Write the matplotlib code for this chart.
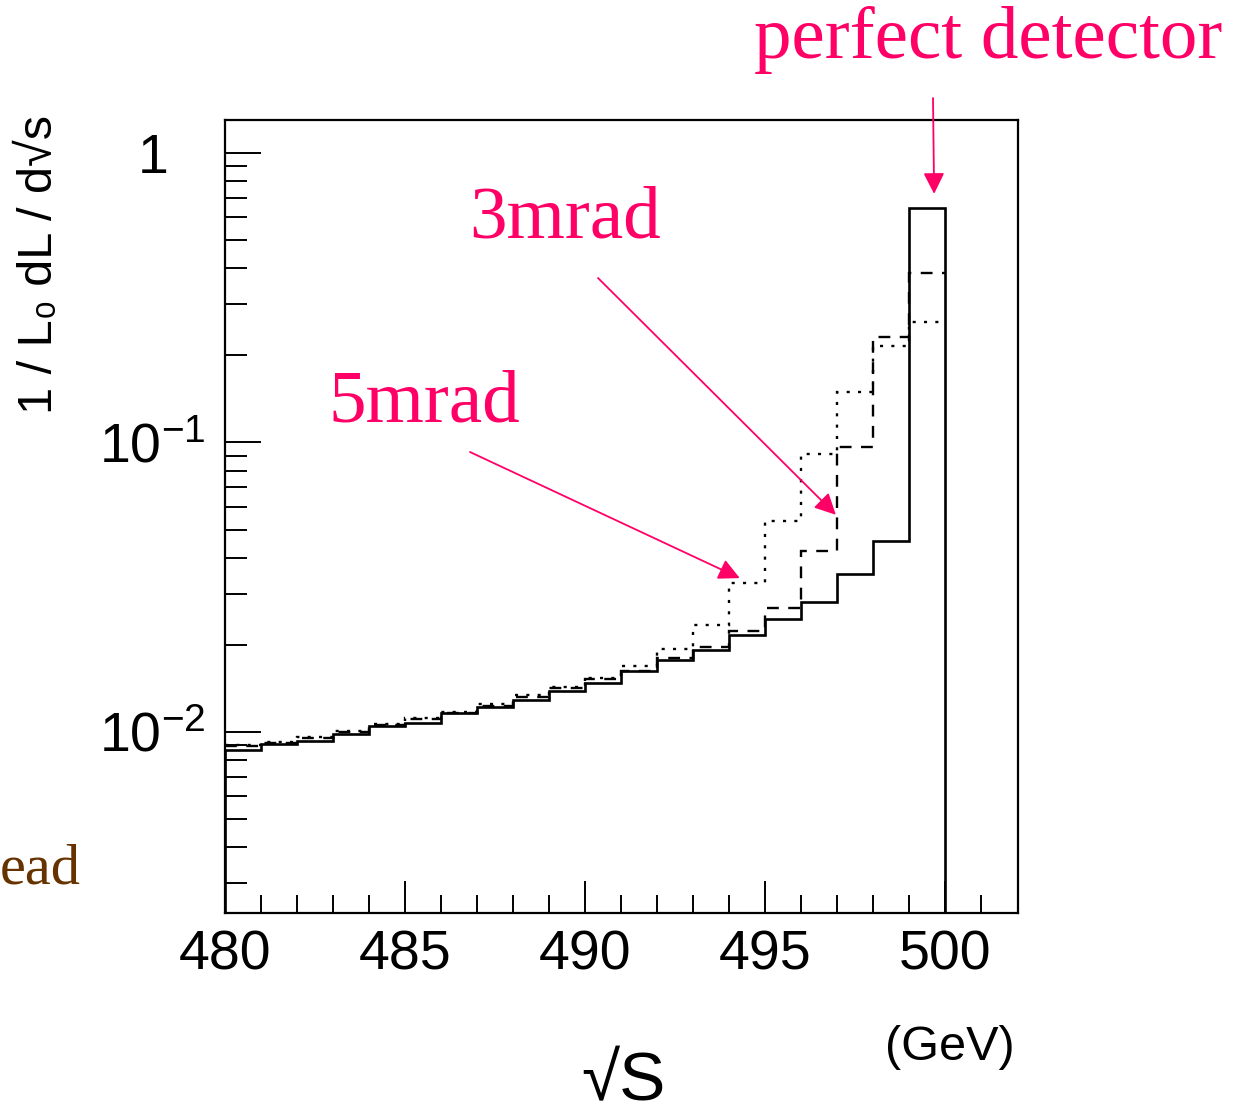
import numpy as np
import matplotlib
matplotlib.use("Agg")
import matplotlib.pyplot as plt
from matplotlib.ticker import FixedLocator, LogLocator, NullFormatter

# ---- data ----
bin_edges = np.arange(480, 501, 1)  # 1 GeV bins from 480 to 500
perfect = [0.00867, 0.00909, 0.00933, 0.00984, 0.01049, 0.01072, 0.01161, 0.01217,
           0.01290, 0.01386, 0.01480, 0.01625, 0.01774, 0.01922, 0.02167, 0.02459,
           0.02822, 0.0352, 0.0455, 0.645]
mrad3 = [0.00895, 0.00914, 0.00951, 0.01003, 0.01057, 0.01109, 0.01166, 0.01233,
         0.01325, 0.01416, 0.01521, 0.01629, 0.0180, 0.0196, 0.0224, 0.0268,
         0.0423, 0.0968, 0.232, 0.385]
mrad5 = [0.00900, 0.00920, 0.00958, 0.01010, 0.01065, 0.01118, 0.01176, 0.01245,
         0.01340, 0.01432, 0.01540, 0.0169, 0.0193, 0.0234, 0.0327, 0.0534,
         0.0911, 0.150, 0.216, 0.261]
xticks_major = [480, 485, 490, 495, 500]
xtick_labels = ["480", "485", "490", "495", "500"]
yticks_major = [1e-2, 1e-1, 1]
ytick_labels = [r"$\mathregular{10^{-2}}$", r"$\mathregular{10^{-1}}$", "1"]

PINK = "#FF0066"
BROWN = "#663300"
SANS = ["Liberation Sans", "DejaVu Sans"]
SERIF = ["Liberation Serif", "DejaVu Serif"]

plt.rcParams["font.family"] = SANS
plt.rcParams["mathtext.fontset"] = "custom"
plt.rcParams["mathtext.rm"] = "Liberation Sans"

W, H = 1236, 1120
fig = plt.figure(figsize=(W / 100, H / 100), dpi=100)
ax = fig.add_axes([225 / W, 1 - 913 / H, (1018 - 225) / W, (913 - 120) / H])
ax.set_yscale("log")
ax.set_xlim(480, 502.03)
ax.set_ylim(0.00237, 1.30)

ax.stairs(perfect, bin_edges, baseline=0.00237, color="black", lw=1.9)
ax.stairs(mrad3, bin_edges, baseline=None, color="black", lw=1.7, linestyle=(0, (5, 4)))
ax.stairs(mrad5, bin_edges, baseline=None, color="black", lw=1.7, linestyle=(0, (1.3, 3.5)))

for s in ax.spines.values():
    s.set_linewidth(1.6)

ax.xaxis.set_major_locator(FixedLocator(xticks_major))
ax.xaxis.set_minor_locator(FixedLocator(np.arange(481, 502, 1)))
ax.set_xticklabels(xtick_labels)
ax.yaxis.set_major_locator(FixedLocator(yticks_major))
ax.yaxis.set_minor_locator(LogLocator(base=10, subs=np.arange(2, 10)))
ax.yaxis.set_minor_formatter(NullFormatter())
ax.set_yticklabels(ytick_labels)

ax.tick_params(axis="x", which="both", direction="in", top=False, labelsize=40, pad=12)
ax.tick_params(axis="x", which="major", length=23, width=1.4)
ax.tick_params(axis="x", which="minor", length=13, width=1.4)
ax.tick_params(axis="y", which="both", direction="in", right=False, labelsize=40, pad=52)
ax.tick_params(axis="y", which="major", length=26, width=1.4)
ax.tick_params(axis="y", which="minor", length=16, width=1.4)
for lab in ax.get_yticklabels():
    lab.set_horizontalalignment("center")

# axis labels
fig.text(40 / W, 1 - 265 / H, "1 / L\u2080 dL / d\u221as", rotation=90, ha="center", va="center",
         fontsize=35, family=SANS)
fig.text(624 / W, 1 - 1082 / H, "\u221aS", ha="center", va="center", fontsize=50, family=SANS)
fig.text(950 / W, 1 - 1048 / H, "(GeV)", ha="center", va="center", fontsize=35, family=SANS)

# annotations
fig.text(988 / W, 1 - 40 / H, "perfect detector", color=PINK, ha="center", va="center",
         fontsize=54, family=SERIF)
fig.text(565 / W, 1 - 220 / H, "3mrad", color=PINK, ha="center", va="center",
         fontsize=54, family=SERIF)
fig.text(424 / W, 1 - 404 / H, "5mrad", color=PINK, ha="center", va="center",
         fontsize=54, family=SERIF)
fig.text(0, 1 - 870 / H, "ead", color=BROWN, ha="left", va="center",
         fontsize=42, family=SERIF)

arrow = dict(arrowstyle="-|>", color=PINK, lw=1.3, mutation_scale=32, shrinkA=0, shrinkB=0)
ax.annotate("", xy=(499.7, perfect[-1] * 1.12), xycoords="data",
            xytext=(933, H - 98), textcoords="figure pixels", arrowprops=arrow)
ax.annotate("", xy=(496.97, mrad3[16] * 1.33), xycoords="data",
            xytext=(598, H - 278), textcoords="figure pixels", arrowprops=arrow)
ax.annotate("", xy=(494.3, mrad5[14] * 1.04), xycoords="data",
            xytext=(470, H - 452), textcoords="figure pixels", arrowprops=arrow)

fig.savefig("out.png", dpi=100)
